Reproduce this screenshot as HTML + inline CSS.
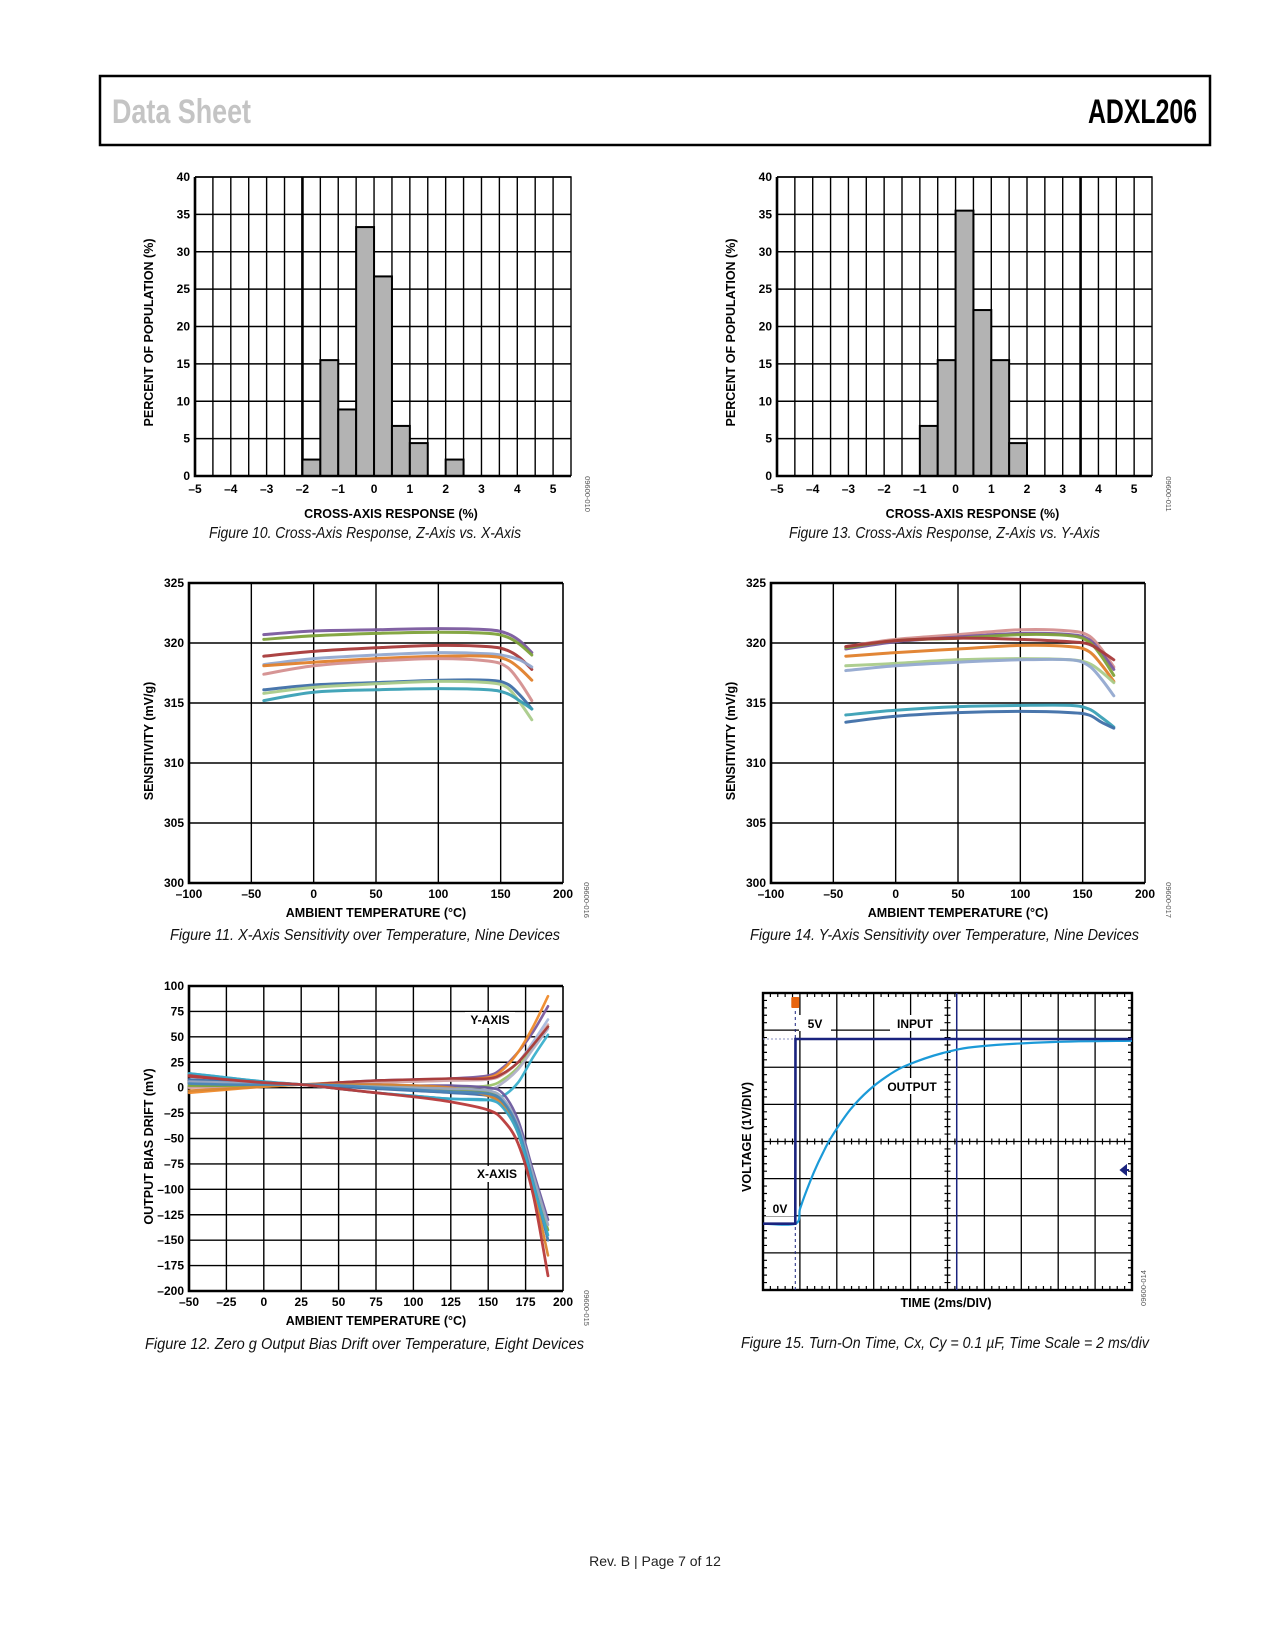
<!DOCTYPE html>
<html><head><meta charset="utf-8"><title>ADXL206 Data Sheet page 7</title>
<style>
html,body{margin:0;padding:0;background:#fff;}
svg{display:block;}
text{font-family:"Liberation Sans",sans-serif;}
.tk{font-size:12px;font-weight:bold;fill:#000;}
.ttl{font-size:12.5px;font-weight:bold;fill:#000;}
.cap{font-size:15.5px;font-style:italic;fill:#111;}
.code{font-size:7.5px;fill:#555;}
</style></head>
<body>
<svg id="page" width="1275" height="1650" viewBox="0 0 1275 1650" xmlns="http://www.w3.org/2000/svg">
<rect x="0" y="0" width="1275" height="1650" fill="#fff"/>
<rect x="100" y="76" width="1110" height="69" fill="none" stroke="#000" stroke-width="2.5"/>
<text x="112" y="123" font-size="34" font-weight="bold" fill="#c4c4c4" textLength="139" lengthAdjust="spacingAndGlyphs">Data Sheet</text>
<text x="1088" y="123" font-size="34" font-weight="bold" fill="#000" textLength="109" lengthAdjust="spacingAndGlyphs">ADXL206</text>
<text x="655" y="1566" font-size="14" fill="#222" text-anchor="middle">Rev. B | Page 7 of 12</text>
</svg>
<script>
// ===== Figure 10 data =====
const f10BinStarts = [-2, -1.5, -1, -0.5, 0, 0.5, 1, 1.5, 2];
const f10Percent = [2.2, 15.5, 8.9, 33.3, 26.7, 6.7, 4.4, 0, 2.2];
const histXTicks = [-5,-4,-3,-2,-1,0,1,2,3,4,5];
const histYTicks = [0,5,10,15,20,25,30,35,40];
// ===== Figure 13 data =====
const f13BinStarts = [-1, -0.5, 0, 0.5, 1, 1.5];
const f13Percent = [6.7, 15.5, 35.5, 22.2, 15.5, 4.4];
// ===== Figure 11 / 14 data =====
const sensTemps = [-40, 0, 50, 100, 140, 155, 165, 175];
const sensXTicks = [-100,-50,0,50,100,150,200];
const sensYTicks = [300,305,310,315,320,325];
const f11Purple = [320.7,321.0,321.1,321.2,321.1,320.8,320.2,319.2];
const f11Green = [320.3,320.6,320.8,320.9,320.8,320.5,319.9,319.0];
const f11DarkRed = [318.9,319.3,319.6,319.8,319.7,319.4,318.8,317.8];
const f11LightBlue = [318.2,318.7,319.0,319.2,319.1,318.9,318.6,318.0];
const f11Orange = [318.1,318.4,318.7,318.9,318.9,318.6,317.9,316.9];
const f11Pink = [317.4,318.1,318.5,318.7,318.5,318.0,316.8,315.2];
const f11Blue = [316.1,316.5,316.7,316.9,316.9,316.6,315.7,314.5];
const f11LightGreen = [315.8,316.3,316.6,316.8,316.7,316.3,315.1,313.6];
const f11Teal = [315.2,315.9,316.1,316.2,316.1,315.8,315.2,314.5];
const f14Pink = [319.7,320.3,320.7,321.1,321.0,320.6,319.5,318.0];
const f14Purple = [319.5,320.1,320.5,320.8,320.7,320.3,319.2,317.8];
const f14Green = [319.6,320.2,320.4,320.7,320.6,320.1,318.9,317.3];
const f14DarkRed = [319.7,320.2,320.4,320.3,320.1,319.9,319.3,318.6];
const f14Orange = [318.9,319.2,319.5,319.8,319.7,319.3,318.2,316.8];
const f14LightGreen = [318.1,318.3,318.6,318.7,318.6,318.3,317.6,316.7];
const f14LightBlue = [317.7,318.1,318.4,318.6,318.6,318.1,317.0,315.6];
const f14Teal = [314.0,314.4,314.7,314.8,314.8,314.5,313.8,313.0];
const f14Blue = [313.4,313.9,314.2,314.3,314.2,314.0,313.4,312.9];
// ===== Figure 12 data =====
const driftTemps = [-50,-25,0,25,50,75,100,125,150,160,170,180,190];
const driftXTicks = [-50,-25,0,25,50,75,100,125,150,175,200];
const driftYTicks = [100,75,50,25,0,-25,-50,-75,-100,-125,-150,-175,-200];
const yAxPurple = [5,4,3,3,5,7,8,9,12,20,35,55,80];
const yAxOrange = [-5,-2,1,3,5,6,7,8,10,18,35,60,90];
const yAxLightBlue = [3,3,3,3,4,5,6,7,8,14,25,45,67];
const yAxPink = [0,1,2,3,4,5,6,7,8,13,25,42,62];
const yAxGreen = [2,2,3,3,2,1,0,0,2,8,20,40,60];
const yAxGray = [8,6,4,3,2,0,-2,-3,-2,5,18,38,58];
const yAxTeal = [14,10,6,3,-1,-5,-8,-11,-12,-8,5,30,52];
const yAxDarkRed = [11,8,5,3,5,7,8,9,9,14,25,42,60];
const xAxDarkRed = [12,8,5,3,-1,-5,-9,-14,-22,-32,-55,-105,-185];
const xAxBlue = [8,6,4,3,1,-1,-3,-5,-8,-15,-40,-90,-150];
const xAxPurple = [5,4,3,3,3,3,2,2,0,-6,-32,-82,-130];
const xAxOrange = [-3,-1,1,3,3,3,2,0,-8,-18,-45,-98,-165];
const xAxTeal = [14,10,6,3,-1,-5,-8,-11,-12,-20,-45,-95,-145];
const xAxGreen = [2,2,3,3,2,1,0,-2,-5,-14,-40,-90,-140];
const xAxGray = [6,5,4,3,2,1,0,-1,-3,-11,-37,-86,-135];
const xAxSteel = [4,3,3,3,2,0,-2,-4,-6,-14,-40,-93,-150];
// ===== Figure 15 data (time ms, volts) =====
const inTimes = [0, 1.75, 1.76, 20];
const inVolts = [0, 0, 5, 5];
const outTimes = [0,1.75,2,2.25,2.75,3.25,3.75,4.75,5.75,6.75,7.75,9.75,11.75,15.75,20];
const outVolts = [0,0,0.39,0.75,1.38,1.92,2.38,3.10,3.62,4.00,4.28,4.62,4.80,4.92,4.95];
const cursorTime = 10.5;

const NS = "http://www.w3.org/2000/svg";
const page = document.getElementById('page');
function mk(tag, at, parent){const e=document.createElementNS(NS,tag);for(const k in at)e.setAttribute(k,at[k]);(parent||page).appendChild(e);return e;}
function lin(d0,d1,r0,r1){return v=>r0+(v-d0)*(r1-r0)/(d1-d0);}
function txt(s,x,y,cls,anchor,parent){const t=mk('text',{x:x,y:y,'class':cls,'text-anchor':anchor||'middle'},parent);t.textContent=s;return t;}
function smooth(pts){let d='M'+pts[0][0].toFixed(1)+','+pts[0][1].toFixed(1);for(let i=0;i<pts.length-1;i++){const p0=pts[Math.max(0,i-1)],p1=pts[i],p2=pts[i+1],p3=pts[Math.min(pts.length-1,i+2)];const c1=[p1[0]+(p2[0]-p0[0])/6,p1[1]+(p2[1]-p0[1])/6],c2=[p2[0]-(p3[0]-p1[0])/6,p2[1]-(p3[1]-p1[1])/6];d+='C'+c1[0].toFixed(1)+','+c1[1].toFixed(1)+' '+c2[0].toFixed(1)+','+c2[1].toFixed(1)+' '+p2[0].toFixed(1)+','+p2[1].toFixed(1);}return d;}
function fmt(v){return v<0?'\u2013'+(-v):''+v;}

// ---------- histogram ----------
function histogram(id,L,R,T,B,starts,vals,thickX,code,title,yTitle,cap,capX,capW){
  const g=mk('g',{});
  
  
  const x=lin(-5,5.5,L,R), y=lin(0,40,B,T);
  for(let v=-4.5;v<5.5;v+=0.5){const l=mk('line',{x1:x(v),x2:x(v),y1:T,y2:B,stroke:'#000','stroke-width':1.4},g);
    
    }
  histYTicks.forEach(v=>{const l=mk('line',{x1:L,x2:R,y1:y(v),y2:y(v),stroke:'#000','stroke-width':1.4},g);
    
    });
  const tl=mk('line',{x1:x(thickX),x2:x(thickX),y1:T,y2:B,stroke:'#000','stroke-width':2.6},g);
  
  
  starts.forEach((s,i)=>{if(vals[i]<=0)return;const r=mk('rect',{x:x(s),y:y(vals[i]),width:x(s+0.5)-x(s),height:B-y(vals[i]),fill:'#b3b3b3',stroke:'#000','stroke-width':2},g);
    
    });
  const fr=mk('path',{d:`M${L},${T}V${B}H${R}`,fill:'none',stroke:'#000','stroke-width':2.6},g);
  
  
  const tr=mk('path',{d:`M${L},${T}H${R}V${B}`,fill:'none',stroke:'#000','stroke-width':1.4},g);
  
  
  histXTicks.forEach(v=>{const t=txt(fmt(v),x(v),B+17,'tk','middle',g);
    
    });
  histYTicks.forEach(v=>{const t=txt(''+v,L-5,y(v)+4,'tk','end',g);
    
    });
  const xt=txt(title,(L+R)/2+8,B+42,'ttl','middle',g);
  
  
  const yt=txt(yTitle,0,0,'ttl','middle',g);yt.setAttribute('transform',`translate(${L-42},${(T+B)/2+6}) rotate(-90)`);
  
  
  const c=txt(cap,capX,B+62,'cap','start',g);c.setAttribute('textLength',capW);c.setAttribute('lengthAdjust','spacingAndGlyphs');
  
  
  const cd=txt(code,0,0,'code','middle',g);cd.setAttribute('transform',`translate(${R+14},${B+18}) rotate(90)`);
  
  
}
histogram('figure-10-histogram',195,571,177,476,f10BinStarts,f10Percent,-2,'09600-010','CROSS-AXIS RESPONSE (%)','PERCENT OF POPULATION (%)','Figure 10. Cross-Axis Response, Z-Axis vs. X-Axis',209,312);
histogram('figure-13-histogram',777,1152,177,476,f13BinStarts,f13Percent,3.5,'09600-011','CROSS-AXIS RESPONSE (%)','PERCENT OF POPULATION (%)','Figure 13. Cross-Axis Response, Z-Axis vs. Y-Axis',789,311);

// ---------- line charts ----------
function lineChart(id,L,R,T,B,xd,yd,xTicks,yTicks,xGrid,yGrid,temps,series,code,xTitle,yTitle,cap,capX,capW,capY){
  const g=mk('g',{});
  
  
  const x=lin(xd[0],xd[1],L,R), y=lin(yd[0],yd[1],B,T);
  xGrid.forEach(v=>{const l=mk('line',{x1:x(v),x2:x(v),y1:T,y2:B,stroke:'#000','stroke-width':1.4},g);
    
    });
  yGrid.forEach(v=>{const l=mk('line',{x1:L,x2:R,y1:y(v),y2:y(v),stroke:'#000','stroke-width':1.4},g);
    
    });
  const fr=mk('path',{d:`M${R},${T}H${L}V${B}H${R}`,fill:'none',stroke:'#000','stroke-width':2.6},g);
  
  
  const rb=mk('line',{x1:R,x2:R,y1:T,y2:B,stroke:'#000','stroke-width':1.6},g);
  
  
  const sg=mk('g',{},g);
  
  
  series.forEach(s=>{const p=mk('path',{d:smooth(temps.map((t,i)=>[x(t),y(s.v[i])])),fill:'none',stroke:s.c,'stroke-width':s.w||3,'stroke-linecap':'round','stroke-opacity':0.95},sg);
    
    });
  xTicks.forEach(v=>{const t=txt(fmt(v),x(v),B+15,'tk','middle',g);
    
    });
  yTicks.forEach(v=>{const t=txt(fmt(v),L-5,y(v)+4,'tk','end',g);
    
    });
  const xt=txt(xTitle,(L+R)/2,B+34,'ttl','middle',g);
  
  
  const yt=txt(yTitle,0,0,'ttl','middle',g);yt.setAttribute('transform',`translate(${L-36},${(T+B)/2+8}) rotate(-90)`);
  
  
  const c=txt(cap,capX,capY,'cap','start',g);c.setAttribute('textLength',capW);c.setAttribute('lengthAdjust','spacingAndGlyphs');
  
  
  const cd=txt(code,0,0,'code','middle',g);cd.setAttribute('transform',`translate(${R+21},${B+17}) rotate(90)`);
  
  
  return {g,x,y};
}
const sensGrid=[-50,0,50,100,150];
lineChart('figure-11-x-sensitivity',189,563,583,883,[-100,200],[300,325],sensXTicks,sensYTicks,sensGrid,[305,310,315,320],sensTemps,[
 {n:'device-purple',c:'#7a5a9e',v:f11Purple},{n:'device-green',c:'#7ea23a',v:f11Green},{n:'device-darkred',c:'#a83a3a',v:f11DarkRed},
 {n:'device-lightblue',c:'#93a9d0',v:f11LightBlue},{n:'device-orange',c:'#e07f2b',v:f11Orange},{n:'device-pink',c:'#d48f8f',v:f11Pink},
 {n:'device-blue',c:'#3f6fa8',v:f11Blue},{n:'device-lightgreen',c:'#aacb8a',v:f11LightGreen},{n:'device-teal',c:'#3aa0b5',v:f11Teal}],
 '09600-016','AMBIENT TEMPERATURE (°C)','SENSITIVITY (mV/g)','Figure 11. X-Axis Sensitivity over Temperature, Nine Devices',170,390,940);
lineChart('figure-14-y-sensitivity',771,1145,583,883,[-100,200],[300,325],sensXTicks,sensYTicks,sensGrid,[305,310,315,320],sensTemps,[
 {n:'device-pink',c:'#d48f8f',v:f14Pink},{n:'device-purple',c:'#7a5a9e',v:f14Purple},{n:'device-green',c:'#7ea23a',v:f14Green},
 {n:'device-darkred',c:'#a83a3a',v:f14DarkRed},{n:'device-orange',c:'#e07f2b',v:f14Orange},{n:'device-lightgreen',c:'#aacb8a',v:f14LightGreen},
 {n:'device-lightblue',c:'#93a9d0',v:f14LightBlue},{n:'device-teal',c:'#3aa0b5',v:f14Teal},{n:'device-blue',c:'#3f6fa8',v:f14Blue}],
 '09600-017','AMBIENT TEMPERATURE (°C)','SENSITIVITY (mV/g)','Figure 14. Y-Axis Sensitivity over Temperature, Nine Devices',750,389,940);
const f12=lineChart('figure-12-bias-drift',189,563,986,1291,[-50,200],[-200,100],driftXTicks,driftYTicks,[-25,0,25,50,75,100,125,150,175],[75,50,25,0,-25,-50,-75,-100,-125,-150,-175],driftTemps,[
 {n:'y-axis-purple',c:'#7a5a9e',v:yAxPurple,w:2.6},{n:'y-axis-orange',c:'#ef8a2a',v:yAxOrange,w:2.6},{n:'y-axis-lightblue',c:'#a9b9dd',v:yAxLightBlue,w:2.6},
 {n:'y-axis-pink',c:'#d8a8a8',v:yAxPink,w:2.6},{n:'y-axis-green',c:'#9cc46a',v:yAxGreen,w:2.6},{n:'y-axis-gray',c:'#b0b0c8',v:yAxGray,w:2.6},
 {n:'y-axis-darkred',c:'#a83a3a',v:yAxDarkRed,w:2.6},{n:'y-axis-teal',c:'#3ab0cc',v:yAxTeal,w:2.6},
 {n:'x-axis-blue',c:'#3f6fa8',v:xAxBlue,w:2.6},{n:'x-axis-purple',c:'#6b5a9e',v:xAxPurple,w:2.6},{n:'x-axis-orange',c:'#d98530',v:xAxOrange,w:2.6},
 {n:'x-axis-green',c:'#7ea23a',v:xAxGreen,w:2.6},{n:'x-axis-gray',c:'#9aa8c0',v:xAxGray,w:2.6},{n:'x-axis-steel',c:'#4a86b8',v:xAxSteel,w:2.6},
 {n:'x-axis-teal',c:'#3aa8c8',v:xAxTeal,w:2.6},{n:'x-axis-darkred',c:'#b83a3a',v:xAxDarkRed,w:2.8}],
 '09600-015','AMBIENT TEMPERATURE (°C)','OUTPUT BIAS DRIFT (mV)','Figure 12. Zero g Output Bias Drift over Temperature, Eight Devices',145,439,1349);
[['Y-AXIS',490,1024,'y-axis-annotation'],['X-AXIS',497,1178,'x-axis-annotation']].forEach(a=>{
  const bg=mk('rect',{x:a[1]-25,y:a[2]-12,width:50,height:16,fill:'#fff'},f12.g);
  
  
  const t=txt(a[0],a[1],a[2],'tk','middle',f12.g);
  
  });

// ---------- Figure 15 scope ----------
(function(){
  const L=763,R=1132,T=993,B=1290;
  const g=mk('g',{});
  
  
  const x=lin(0,20,L,R), y=lin(0,5,1223.7,1039);
  const dx=(R-L)/10, dy=(B-T)/8;
  for(let i=1;i<10;i++){const l=mk('line',{x1:L+i*dx,x2:L+i*dx,y1:T,y2:B,stroke:'#000','stroke-width':1.3},g);
    
    }
  for(let i=1;i<8;i++){const l=mk('line',{x1:L,x2:R,y1:T+i*dy,y2:T+i*dy,stroke:'#000','stroke-width':1.3},g);
    
    }
  let tk='';const cx=L+5*dx, cy=T+4*dy;
  for(let i=1;i<50;i++){const xx=L+i*dx/5; if(i%5) tk+=`M${xx},${T}v4M${xx},${B}v-4M${xx},${cy-3}v6`;}
  for(let i=1;i<40;i++){const yy=T+i*dy/5; if(i%5) tk+=`M${L},${yy}h4M${R},${yy}h-4M${cx-3},${yy}h6`;}
  const tp=mk('path',{d:tk,stroke:'#000','stroke-width':1.2,fill:'none'},g);
  
  
  const fr=mk('rect',{x:L,y:T,width:R-L,height:B-T,fill:'none',stroke:'#000','stroke-width':2.4},g);
  
  
  const labels=[['5V',815,1028,32],['INPUT',915,1028,50],['OUTPUT',912,1091,58],['0V',780,1213,28]];
  labels.forEach(a=>{const bg=mk('rect',{x:a[1]-a[3]/2,y:a[2]-13,width:a[3],height:16,fill:'#fff'},g);
    
    
    const t=txt(a[0],a[1],a[2],'tk','middle',g);
    
    });
  const trig=mk('line',{x1:x(inTimes[1]),x2:x(inTimes[1]),y1:T+6,y2:B,stroke:'#1a237e','stroke-width':1,'stroke-dasharray':'3,3'},g);
  
  
  const hl=mk('line',{x1:L,x2:x(inTimes[1]),y1:y(5),y2:y(5),stroke:'#8890c0','stroke-width':1,'stroke-dasharray':'2,2'},g);
  
  
  const cur=mk('line',{x1:x(cursorTime),x2:x(cursorTime),y1:T,y2:B,stroke:'#1a237e','stroke-width':1.5},g);
  
  
  const out=mk('path',{d:smooth(outTimes.map((t,i)=>[x(t),y(outVolts[i])])),fill:'none',stroke:'#1b9ad8','stroke-width':2.2},g);
  
  
  const inp=mk('polyline',{points:inTimes.map((t,i)=>x(t)+','+y(inVolts[i])).join(' '),fill:'none',stroke:'#1a237e','stroke-width':2.6},g);
  
  
  const tm=mk('rect',{x:x(inTimes[1])-4,y:T+4,width:8,height:11,fill:'#e8650f',rx:1},g);
  
  
  const ar=mk('path',{d:`M${R-3},1170l-8,0M${R-11},1170l5,-4v8z`,stroke:'#1a237e','stroke-width':2,fill:'#1a237e'},g);
  
  
  const xt=txt('TIME (2ms/DIV)',946,1307,'ttl','middle',g);
  
  
  const yt=txt('VOLTAGE (1V/DIV)',0,0,'ttl','middle',g);yt.setAttribute('transform','translate(751,1137) rotate(-90)');
  
  
  const c=txt('Figure 15. Turn-On Time, Cx, Cy = 0.1 µF, Time Scale = 2 ms/div',741,1348,'cap','start',g);c.setAttribute('textLength',408);c.setAttribute('lengthAdjust','spacingAndGlyphs');
  
  
  const cd=txt('09600-014',0,0,'code','middle',g);cd.setAttribute('transform','translate(1146,1288) rotate(-90)');
  
  
})();
</script>
</body></html>
